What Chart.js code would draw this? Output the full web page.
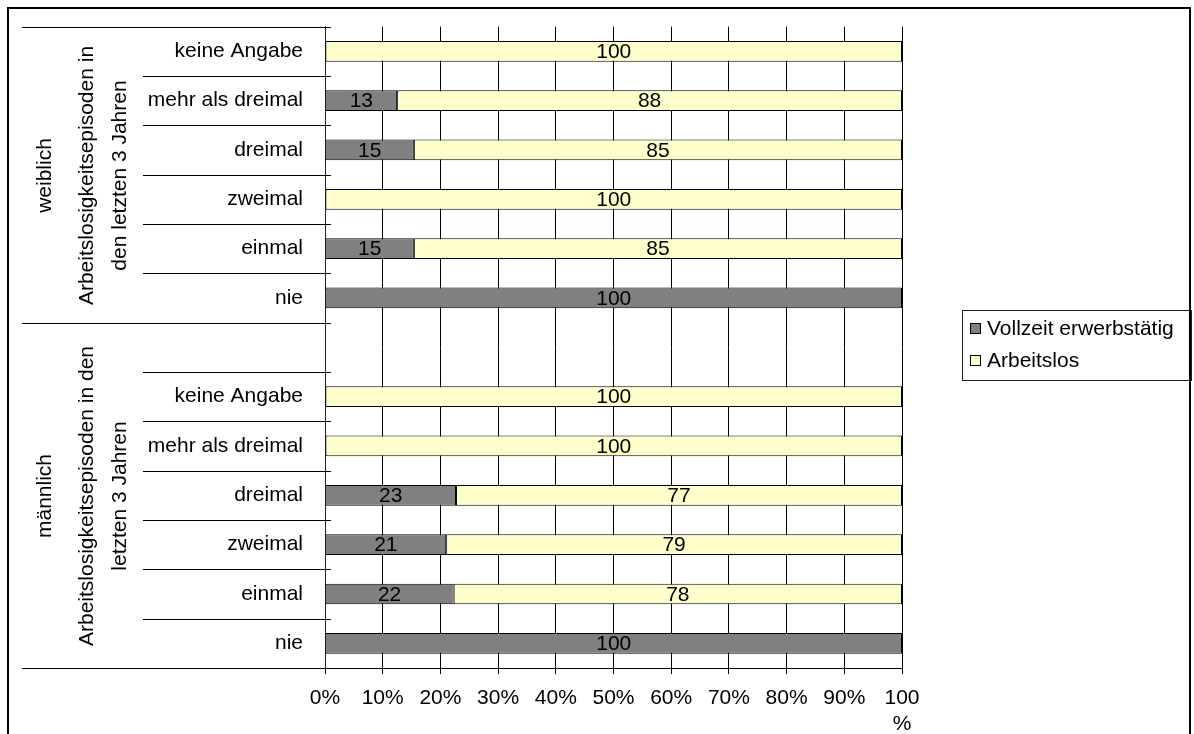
<!DOCTYPE html>
<html>
<head>
<meta charset="utf-8">
<script src="https://cdn.jsdelivr.net/npm/chart.js@4.4.1/dist/chart.umd.min.js"></script>
<style>
  body { margin: 0; background: #fff; }
</style>
</head>
<body>
<canvas id="employmentChart" width="1194" height="734"></canvas>
<script>
  // categories top to bottom; the empty one is the gap row between the two groups
  const categories = [
    'keine Angabe', 'mehr als dreimal', 'dreimal', 'zweimal', 'einmal', 'nie',
    '',
    'keine Angabe', 'mehr als dreimal', 'dreimal', 'zweimal', 'einmal', 'nie',
  ];
  const vollzeit = [0, 12.5, 15.4, 0, 15.4, 100, null, 0, 0, 22.7, 21.0, 22.3, 100];
  const arbeitslos = [100, 87.5, 84.6, 100, 84.6, 0, null, 100, 100, 77.3, 79.0, 77.7, 0];
  const seriesNames = ['Vollzeit erwerbstätig', 'Arbeitslos'];

  const groupNames = ['weiblich', 'männlich'];
  const groupSubtitles = [
    ['Arbeitslosigkeitsepisoden in', 'den letzten 3 Jahren'],
    ['Arbeitslosigkeitsepisoden in den', 'letzten 3 Jahren'],
  ];
  const groupRanges = [[0, 5], [6, 12]];

  const xTicks = [0, 10, 20, 30, 40, 50, 60, 70, 80, 90, 100];

  const FONT = '"Liberation Sans", Arial, sans-serif';
  const FONT_SIZE = 21;
  Chart.defaults.font.family = FONT;
  Chart.defaults.font.size = FONT_SIZE;
  Chart.defaults.color = '#000';

  // numbers in the middle of each bar segment
  const barLabels = {
    id: 'barLabels',
    afterDatasetsDraw(chart) {
      const ctx = chart.ctx;
      ctx.save();
      ctx.font = FONT_SIZE + 'px ' + FONT;
      ctx.fillStyle = '#000';
      ctx.textAlign = 'center';
      ctx.textBaseline = 'middle';
      chart.data.datasets.forEach((ds, i) => {
        chart.getDatasetMeta(i).data.forEach((bar, j) => {
          const v = ds.data[j];
          if (!v) return;
          const p = bar.getProps(['x', 'y', 'base'], true);
          ctx.fillText(Math.round(v), (p.x + p.base) / 2, p.y + 1);
        });
      });
      ctx.restore();
    },
  };

  // multi-level category axis: separators and rotated group labels
  const groupAxis = {
    id: 'groupAxis',
    afterDraw(chart) {
      const ctx = chart.ctx;
      const y = chart.scales.y;
      const axisX = chart.chartArea.left;
      const step = y.getPixelForValue(1) - y.getPixelForValue(0);
      const edge = (i) => Math.round(y.getPixelForValue(i) - step / 2) + 0.5;
      const groupEdges = [0, categories.length].concat(groupRanges.map((r) => r[0]));

      ctx.save();
      ctx.strokeStyle = '#000';
      ctx.lineWidth = 1;
      for (let i = 0; i <= categories.length; i++) {
        const yy = edge(i);
        ctx.beginPath();
        ctx.moveTo(groupEdges.includes(i) ? 22 : 143, yy);
        ctx.lineTo(axisX + 6, yy);
        ctx.stroke();
      }

      ctx.fillStyle = '#000';
      ctx.font = FONT_SIZE + 'px ' + FONT;
      ctx.textAlign = 'center';
      ctx.textBaseline = 'middle';
      groupRanges.forEach((r, g) => {
        const cy = (edge(r[0]) + edge(r[1] + 1)) / 2;
        const cols = [[45, groupNames[g]], [87, groupSubtitles[g][0]], [120, groupSubtitles[g][1]]];
        cols.forEach(([cx, text]) => {
          ctx.save();
          ctx.translate(cx, cy);
          ctx.rotate(-Math.PI / 2);
          ctx.fillText(text, 0, 0);
          ctx.restore();
        });
      });

      // legend box
      const lx = 962, ly = 310, lw = 229, lh = 70;
      ctx.strokeStyle = '#222';
      ctx.strokeRect(lx + 0.5, ly + 0.5, lw, lh);
      ctx.textAlign = 'left';
      chart.data.datasets.forEach((ds, i) => {
        const iy = ly + 18 + i * 32;
        ctx.fillStyle = ds.backgroundColor;
        ctx.fillRect(lx + 8, iy - 5, 11, 11);
        ctx.strokeStyle = '#000';
        ctx.strokeRect(lx + 8.5, iy - 4.5, 10, 10);
        ctx.fillStyle = '#000';
        ctx.fillText(ds.label, lx + 25, iy + 1);
      });

      // outer frame
      ctx.lineWidth = 2;
      ctx.strokeStyle = '#000';
      ctx.strokeRect(8, 8, 1182, 740);
      ctx.restore();
    },
  };

  new Chart(document.getElementById('employmentChart'), {
    type: 'bar',
    data: {
      labels: categories,
      datasets: [
        {
          label: seriesNames[0],
          data: vollzeit,
          backgroundColor: '#808080',
          borderColor: '#000',
          borderWidth: 1,
          borderSkipped: false,
        },
        {
          label: seriesNames[1],
          data: arbeitslos,
          backgroundColor: '#FFFFCC',
          borderColor: '#000',
          borderWidth: 1,
          borderSkipped: false,
        },
      ],
    },
    options: {
      indexAxis: 'y',
      responsive: false,
      animation: false,
      categoryPercentage: 1,
      barPercentage: 0.42,
      layout: { padding: { left: 10, top: 25, right: 292, bottom: 0 } },
      plugins: {
        legend: { display: false },
        tooltip: { enabled: false },
      },
      scales: {
        x: {
          stacked: true,
          min: 0,
          max: 100,
          afterBuildTicks: (scale) => {
            scale.ticks = xTicks.map((v) => ({ value: v }));
          },
          afterFit: (scale) => {
            scale.height = 66;
          },
          grid: { color: '#000', lineWidth: 1, tickLength: 6 },
          border: { display: true, color: '#000' },
          ticks: {
            padding: 12,
            maxRotation: 0,
            autoSkip: false,
            callback: (v) => (v === 100 ? ['100', '%'] : v + '%'),
          },
        },
        y: {
          stacked: true,
          afterFit: (scale) => {
            scale.width = 315;
          },
          grid: { display: false },
          border: { display: true, color: '#222' },
          ticks: { padding: 14, autoSkip: false },
        },
      },
    },
    plugins: [barLabels, groupAxis],
  });
</script>
</body>
</html>
